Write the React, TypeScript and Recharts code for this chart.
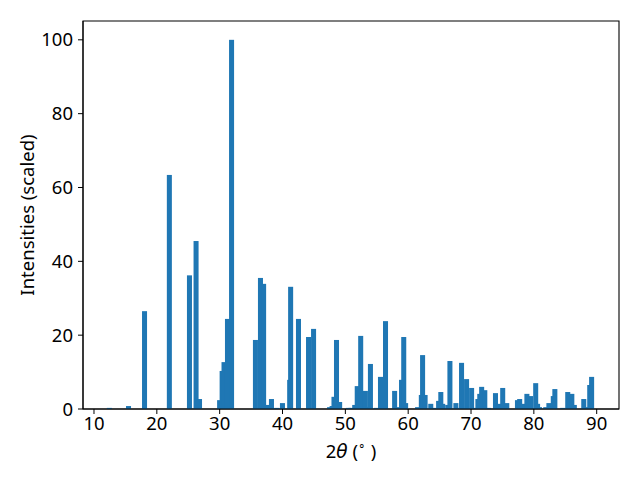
import { Bar, BarChart, ReferenceArea, XAxis, YAxis } from "recharts";

// peak positions (2θ, degrees) and scaled intensities
const twoTheta = [
  12.45, 15.5, 18.05, 22.0, 25.2, 26.25, 26.8, 30.0, 30.4, 30.7, 31.25, 31.9,
  35.7, 36.5, 37.0, 37.55, 38.25, 39.1, 40.0, 41.15, 41.3, 42.55, 44.15, 44.95,
  47.5, 47.9, 48.2, 48.6, 49.1, 50.5, 50.9, 51.5, 51.9, 52.45, 53.2, 53.6, 54.0,
  54.95, 55.6, 56.4, 57.85, 58.6, 58.95, 59.3, 59.6, 61.5, 62.1, 62.3, 62.7,
  63.6, 64.3, 64.85, 65.2, 65.5, 66.3, 66.65, 67.6, 68.0, 68.5, 69.3, 70.1,
  70.6, 71.1, 71.4, 71.7, 72.2, 72.8, 73.9, 74.4, 75.05, 75.7, 77.4, 77.75,
  78.3, 78.9, 79.5, 80.3, 80.6, 80.9, 81.9, 82.4, 83.1, 83.35, 84.6, 85.4,
  86.05, 86.45, 87.95, 88.5, 88.9, 89.2,
];
const intensity = [
  0.3, 0.8, 26.5, 63.4, 36.2, 45.5, 2.7, 2.4, 10.3, 12.7, 24.4, 100,
  18.7, 35.5, 33.9, 1.1, 2.7, 0.3, 1.6, 7.9, 33.1, 24.4, 19.5, 21.7,
  0.5, 0.8, 3.3, 18.7, 1.9, 0.3, 0.3, 1.1, 6.2, 19.8, 4.9, 0.5, 12.2,
  0.3, 8.7, 23.8, 4.9, 0.5, 7.9, 19.5, 1.6, 0.5, 3.8, 14.6, 3.8,
  1.4, 0.3, 2.2, 4.6, 1.4, 1.1, 13.0, 1.6, 0.3, 12.5, 8.1, 5.7,
  0.3, 2.7, 4.1, 6.0, 5.1, 0.3, 4.3, 1.4, 5.7, 1.6, 2.4, 2.7,
  1.4, 4.1, 3.5, 7.0, 1.4, 0.5, 0.5, 1.6, 3.5, 5.4, 0.3, 4.6,
  4.1, 1.1, 2.7, 0.5, 6.5, 8.7,
];
const xTicks = [10, 20, 30, 40, 50, 60, 70, 80, 90];
const yTicks = [0, 20, 40, 60, 80, 100];

const data = twoTheta.map((t, i) => ({ twoTheta: t, intensity: intensity[i] }));

const X_DOMAIN: [number, number] = [8.25, 93.55];
const Y_DOMAIN: [number, number] = [0, 105.1];
const PLOT_W = 536;
const BAR_W = (0.8 * PLOT_W) / (X_DOMAIN[1] - X_DOMAIN[0]);
const FONT = "'Noto Sans', 'Open Sans', sans-serif";
const FS = 18.5;

const PeakBar = (props: any) => {
  const { x, y, width, height } = props;
  if (height == null || !(height > 0)) return null;
  const cx = x + (width || 0) / 2;
  return <rect x={cx - BAR_W / 2} y={y} width={BAR_W} height={height} fill="#1f77b4" />;
};

const XLabel = ({ viewBox }: any) => (
  <text
    x={viewBox.x + viewBox.width / 2}
    y={458}
    textAnchor="middle"
    fontSize={FS}
    fontFamily={FONT}
    fill="#000"
  >
    2<tspan fontStyle="italic" fontFamily="'DejaVu Sans', sans-serif">θ</tspan> (
    <tspan dy={-8} fontSize={12}>∘</tspan>
    <tspan dy={8}> )</tspan>
  </text>
);

const YLabel = ({ viewBox }: any) => {
  const cy = viewBox.y + viewBox.height / 2;
  return (
    <text
      x={26}
      y={cy}
      transform={`rotate(-90, 26, ${cy})`}
      textAnchor="middle"
      dominantBaseline="central"
      fontSize={FS}
      fontFamily={FONT}
      fill="#000"
    >
      Intensities (scaled)
    </text>
  );
};

const tickStyle = { fontSize: FS, fontFamily: FONT, fill: "#000" };

export default function App() {
  return (
    <div style={{ position: "absolute", left: 0, top: 0, background: "#fff" }}>
      <BarChart
        width={640}
        height={480}
        data={data}
        margin={{ top: 21, right: 21, bottom: 0, left: 0 }}
        barCategoryGap={0}
      >
        <XAxis
          dataKey="twoTheta"
          type="number"
          domain={X_DOMAIN}
          ticks={xTicks}
          allowDataOverflow
          height={71}
          tickSize={5}
          tickMargin={3}
          tick={tickStyle}
          stroke="#000"
          label={<XLabel />}
        />
        <YAxis
          type="number"
          domain={Y_DOMAIN}
          ticks={yTicks}
          allowDataOverflow
          width={83}
          tickSize={5}
          tickMargin={5}
          tick={tickStyle}
          stroke="#000"
          label={<YLabel />}
        />
        <Bar
          dataKey="intensity"
          barSize={1}
          shape={PeakBar}
          isAnimationActive={false}
        />
        <ReferenceArea
          x1={X_DOMAIN[0]}
          x2={X_DOMAIN[1]}
          y1={Y_DOMAIN[0]}
          y2={Y_DOMAIN[1]}
          stroke="#000"
          strokeWidth={1.1}
          fill="none"
          fillOpacity={0}
        />
      </BarChart>
    </div>
  );
}
